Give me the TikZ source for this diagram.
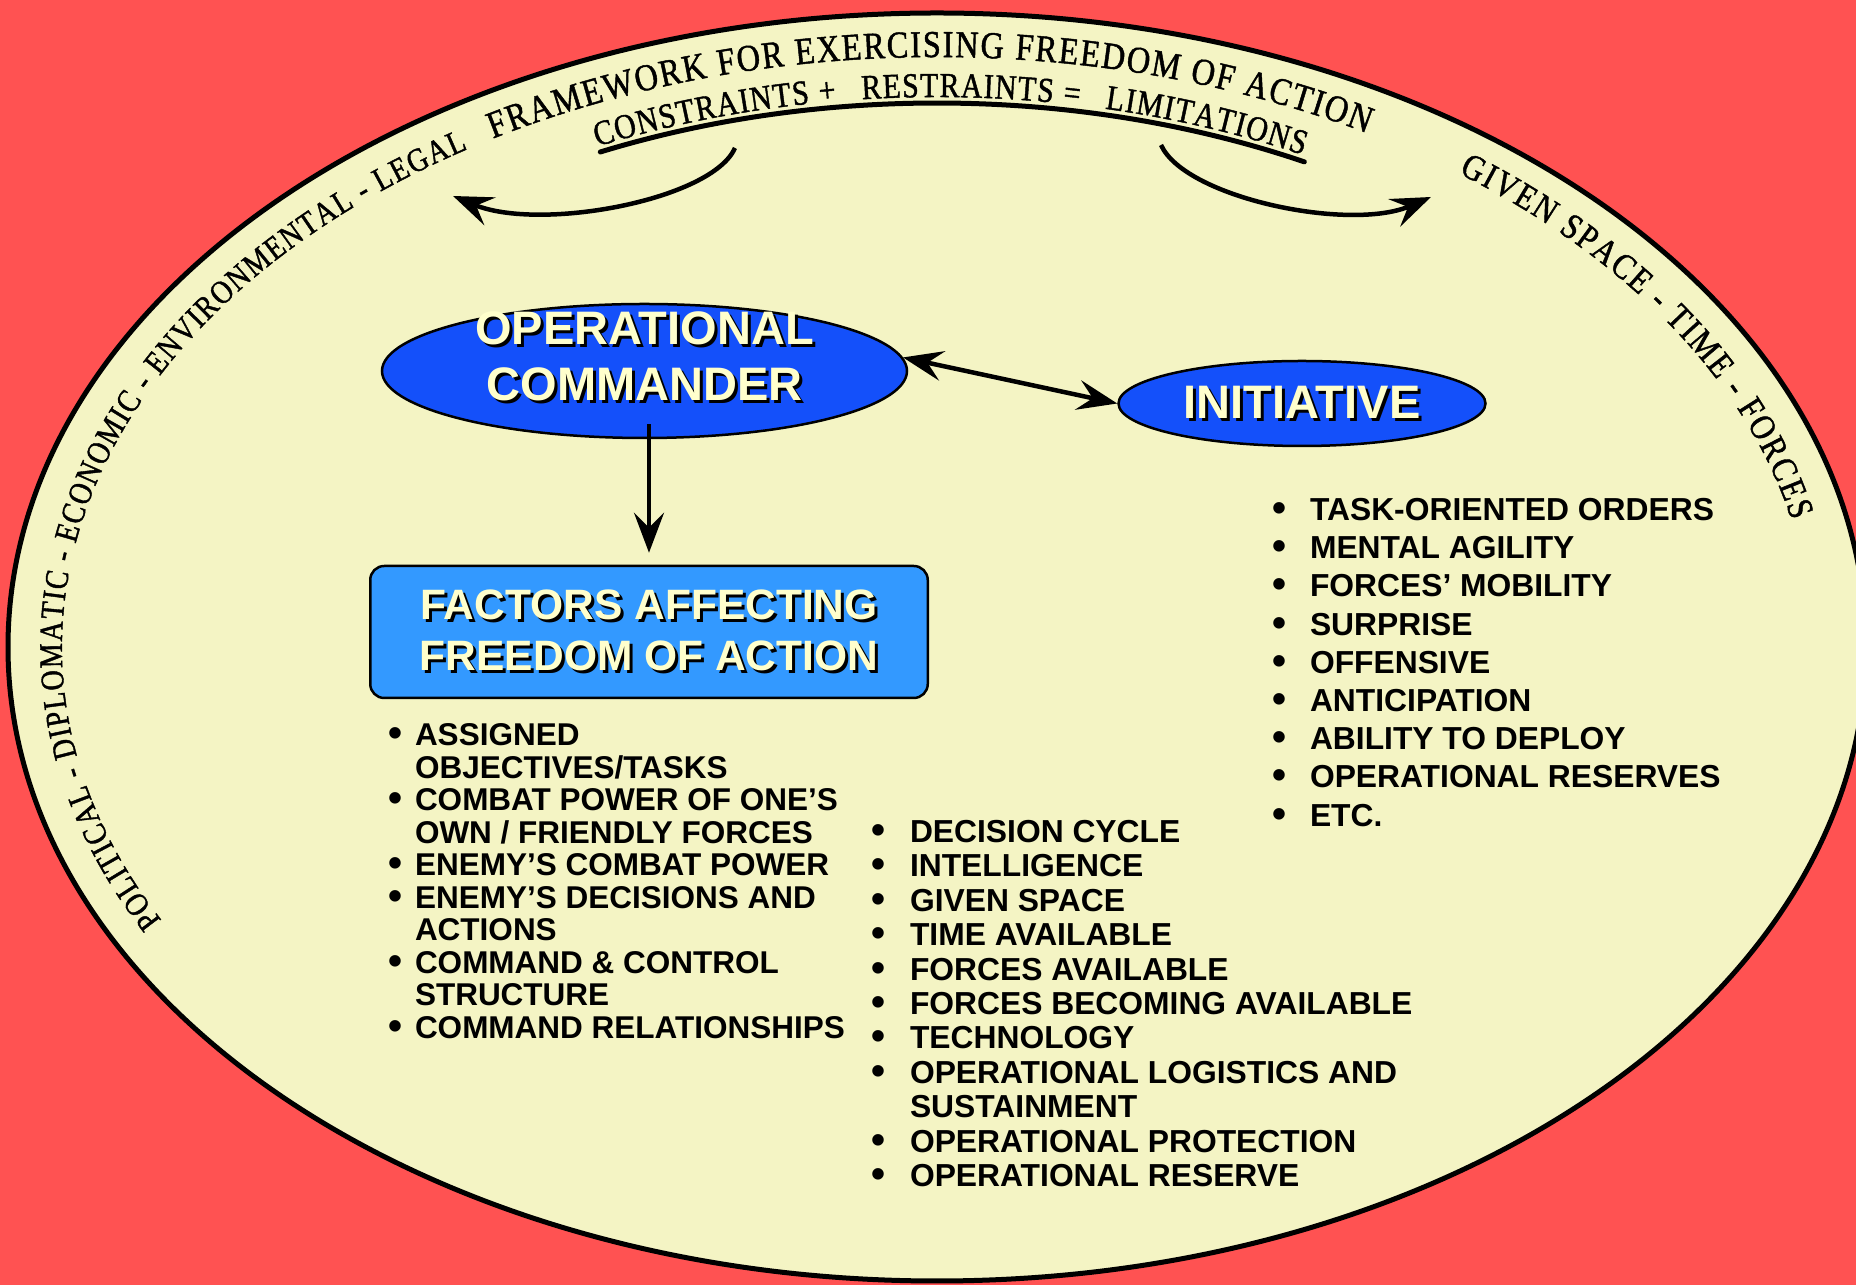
\documentclass[tikz,border=0pt]{standalone}
\usepackage{fontspec}
\setmainfont{Liberation Sans}
\newfontfamily\arcfont[FakeStretch=0.85,FakeBold=1.2]{Liberation Serif}
\usetikzlibrary{shapes.geometric,arrows.meta,decorations.text,calc}
\definecolor{bgred}{RGB}{255,82,82}
\definecolor{pale}{RGB}{244,244,196}
\definecolor{ocblue}{RGB}{20,80,250}
\definecolor{boxblue}{RGB}{51,153,255}
\definecolor{lightyel}{RGB}{255,255,204}
\newcommand\sh[1]{\rlap{\kern3pt\raisebox{-3pt}{\color{black}#1}}#1}
\newcommand\bl[1]{\leavevmode\llap{\makebox[#1][l]{\raisebox{-1pt}{\fontsize{40pt}{40pt}\selectfont •}}}}
\newcommand\arcA{\arcfont\fontsize{33pt}{33pt}\selectfont}
\newcommand\arcB{\arcfont\fontsize{38pt}{38pt}\selectfont}
\newcommand\arcC{\arcfont\fontsize{36pt}{36pt}\selectfont}
\newcommand\arcD{\arcfont\fontsize{35pt}{35pt}\selectfont}
\tikzset{
  ocshape/.style={ellipse, draw=black, line width=2.5pt, fill=ocblue, inner sep=0pt},
  nodetxt/.style={inner sep=0pt, text=lightyel, font=\fontsize{47pt}{56pt}\selectfont\bfseries},
  boxst/.style={rectangle, rounded corners=14pt, draw=black, line width=2.5pt, fill=boxblue,
    inner sep=0pt, align=center, text=lightyel, font=\fontsize{42.5pt}{51pt}\selectfont\bfseries},
  listtxt/.style={anchor=base west, inner sep=0pt, outer sep=0pt, text=black},
  arr/.style={line width=4.5pt, -{Stealth[length=40pt,width=30pt,inset=15pt]}},
  dblarr/.style={line width=4.5pt, {Stealth[length=40pt,width=30pt,inset=15pt]}-{Stealth[length=40pt,width=30pt,inset=15pt]}},
  arctext/.style={decorate, decoration={text along path, text align={fit to path}, text color=black}}
}
\begin{document}
\begin{tikzpicture}[x=1pt,y=1pt]
\useasboundingbox (0,0) rectangle (1856,1285);
\fill[bgred] (0,0) rectangle (1856,1285);
% frame ellipse
\draw[line width=5pt, fill=pale] (937,638) ellipse [x radius=929, y radius=634];
% text along the frame
\path[arctext, decoration={text={|\arcA|POLITICAL - DIPLOMATIC - ECONOMIC - ENVIRONMENTAL - LEGAL}}]
  ([shift={(937,638)}]207.6:875 and 590) arc[start angle=207.6, end angle=122.5, x radius=875, y radius=590];
\path[arctext, decoration={text={|\arcB|FRAMEWORK FOR EXERCISING FREEDOM OF ACTION}}]
  ([shift={(937,638)}]120.5:875 and 590) arc[start angle=120.5, end angle=60.6, x radius=875, y radius=590];
\path[arctext, decoration={text={|\arcC|GIVEN SPACE - TIME - FORCES}}]
  ([shift={(937,638)}]53.4:875 and 590) arc[start angle=53.4, end angle=12.4, x radius=875, y radius=590];
\path[arctext, decoration={text={|\arcD|CONSTRAINTS + {\kern6pt} RESTRAINTS = {\kern6pt} LIMITATIONS}}]
  ([shift={(937,638)}]114.5:819 and 550) arc[start angle=114.5, end angle=63.5, x radius=819, y radius=550];
% underline arc
\draw[line width=5pt, line cap=round] ([shift={(937,638)}]114.5:812 and 544) arc[start angle=114.5, end angle=63.1, x radius=812, y radius=544];
% curved arrows
\coordinate (la0) at (735,1137);
\coordinate (la1) at (453,1089);
\coordinate (ra0) at (1161,1140);
\coordinate (ra1) at (1431,1088);
\draw[arr] (la0) .. controls (712,1085) and (540,1053) .. (la1);
\draw[arr] (ra0) .. controls (1185,1087) and (1350,1053) .. (ra1);
% nodes
\node[ocshape, minimum width=525pt, minimum height=134pt] (oc) at (644.5,914) {};
\node[nodetxt, anchor=base] (oct1) at (644.5,940.5) {\sh{OPERATIONAL}};
\node[nodetxt, anchor=base] (oct2) at (644.5,884) {\sh{COMMANDER}};
\node[ocshape, nodetxt, draw=black, fill=ocblue, minimum width=367pt, minimum height=85pt] (init) at (1302,881.5) {\sh{INITIATIVE}};
\node[boxst, minimum width=557.5pt, minimum height=132pt] (fac) at (649,653) {\sh{FACTORS AFFECTING}\\\sh{FREEDOM OF ACTION}};
% connectors
\draw[arr] ($(oc.south)+(4.5,15)$) -- ($(fac.north)+(0,12)$);
\draw[dblarr] (oc.3) -- (init.west);
% lists
\node[listtxt] (leftlist) at (415,539) {\parbox[t]{700pt}{\fontsize{31.5pt}{32.5pt}\selectfont\bfseries
\bl{27pt}ASSIGNED\\
OBJECTIVES/TASKS\\
\bl{27pt}COMBAT POWER OF ONE’S\\
OWN / FRIENDLY FORCES\\
\bl{27pt}ENEMY’S COMBAT POWER\\
\bl{27pt}ENEMY’S DECISIONS AND\\
ACTIONS\\
\bl{27pt}COMMAND \& CONTROL\\
STRUCTURE\\
\bl{27pt}COMMAND RELATIONSHIPS}};
\node[listtxt] (midlist) at (910,442.5) {\parbox[t]{700pt}{\fontsize{31.8pt}{34.4pt}\selectfont\bfseries
\bl{38.5pt}DECISION CYCLE\\
\bl{38.5pt}INTELLIGENCE\\
\bl{38.5pt}GIVEN SPACE\\
\bl{38.5pt}TIME AVAILABLE\\
\bl{38.5pt}FORCES AVAILABLE\\
\bl{38.5pt}FORCES BECOMING AVAILABLE\\
\bl{38.5pt}TECHNOLOGY\\
\bl{38.5pt}OPERATIONAL LOGISTICS AND\\
SUSTAINMENT\\
\bl{38.5pt}OPERATIONAL PROTECTION\\
\bl{38.5pt}OPERATIONAL RESERVE}};
\node[listtxt] (rightlist) at (1310,764.5) {\parbox[t]{600pt}{\fontsize{31.8pt}{38.2pt}\selectfont\bfseries
\bl{37.5pt}TASK-ORIENTED ORDERS\\
\bl{37.5pt}MENTAL AGILITY\\
\bl{37.5pt}FORCES’ MOBILITY\\
\bl{37.5pt}SURPRISE\\
\bl{37.5pt}OFFENSIVE\\
\bl{37.5pt}ANTICIPATION\\
\bl{37.5pt}ABILITY TO DEPLOY\\
\bl{37.5pt}OPERATIONAL RESERVES\\
\bl{37.5pt}ETC.}};
\end{tikzpicture}
\end{document}
